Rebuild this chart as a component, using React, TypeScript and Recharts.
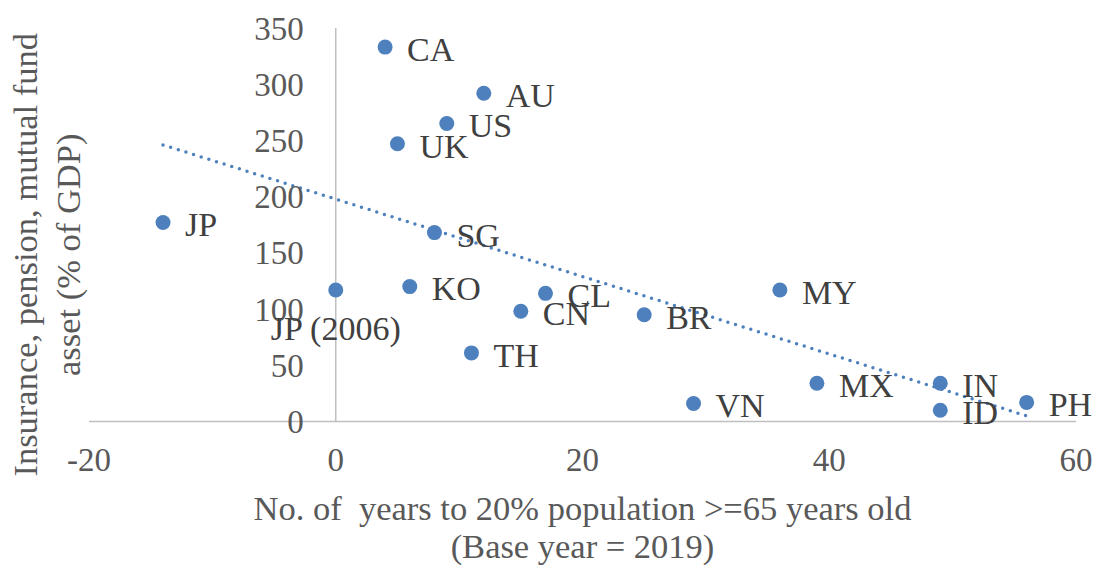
import { ScatterChart, Scatter, XAxis, YAxis, ReferenceLine, ReferenceDot } from 'recharts';

const countries = ['JP', 'CA', 'AU', 'US', 'UK', 'SG', 'JP (2006)', 'KO', 'TH', 'CN', 'CL', 'BR', 'MY', 'VN', 'MX', 'IN', 'ID', 'PH'];
const yearsTo20 = [-14, 4, 12, 9, 5, 8, 0, 6, 11, 15, 17, 25, 36, 29, 39, 49, 49, 56];
const assetPctGdp = [177, 333, 292, 265, 247, 168, 117, 120, 61, 98, 114, 95, 117, 16, 34, 34, 10, 17];

// dotted linear trendline, end points
const trendYears = [-14, 56];
const trendAsset = [246, 5];

const xTicks = [-20, 0, 20, 40, 60];
const yTicks = [0, 50, 100, 150, 200, 250, 300, 350];

const points = countries.map((name, i) => ({ name, x: yearsTo20[i], y: assetPctGdp[i] }));
const trendSegment = trendYears.map((x, i) => ({ x, y: trendAsset[i] }));

const FONT = '"Liberation Serif", "Times New Roman", serif';
const BLUE = '#4e80bd';
const AXIS_GRAY = '#bfbfbf';
const TEXT_GRAY = '#595959';
const LABEL_GRAY = '#404040';

const belowLabel = new Set(['JP (2006)']);

const PointWithLabel = (props: any) => {
  const { cx, cy, payload } = props;
  const below = belowLabel.has(payload.name);
  return (
    <g>
      <circle cx={cx} cy={cy} r={7.5} fill={BLUE} />
      <text
        x={below ? cx : cx + 22}
        y={below ? cy + 38 : cy + 2}
        dy="0.35em"
        textAnchor={below ? 'middle' : 'start'}
        fontFamily={FONT}
        fontSize={34}
        fill={LABEL_GRAY}
      >
        {payload.name}
      </text>
    </g>
  );
};

const XTitle = (props: any) => {
  const { x, y, width } = props.viewBox;
  const cx = x + width / 2;
  return (
    <text textAnchor="middle" fontFamily={FONT} fontSize={34.5} fill={TEXT_GRAY} style={{ whiteSpace: 'pre' }}>
      <tspan x={cx} y={y + 86} dy="0.35em">No. of  years to 20% population &gt;=65 years old</tspan>
      <tspan x={cx} y={y + 124} dy="0.35em">(Base year = 2019)</tspan>
    </text>
  );
};

const YTitle = (props: any) => {
  const { y, height } = props.viewBox;
  const cy = y + height / 2 + 30;
  return (
    <g fontFamily={FONT} fontSize={34.5} fill={TEXT_GRAY}>
      <text x={25} y={cy} dy="0.35em" textAnchor="middle" transform={`rotate(-90, 25, ${cy})`}>
        Insurance, pension, mutual fund
      </text>
      <text x={68} y={cy} dy="0.35em" textAnchor="middle" transform={`rotate(-90, 68, ${cy})`}>
        asset (% of GDP)
      </text>
    </g>
  );
};

const YTickLabel = (props: any) => {
  const { x, y } = props.viewBox;
  return (
    <text x={x - 32} y={y} dy="0.35em" textAnchor="end" fontFamily={FONT} fontSize={33} fill={TEXT_GRAY}>
      {props.value}
    </text>
  );
};

export default function App() {
  return (
    <div>
      <style>{'body { margin: 0; } .recharts-wrapper, .recharts-surface { overflow: visible !important; }'}</style>
      <ScatterChart width={1096} height={569} margin={{ top: 28, right: 20, bottom: 17.5, left: 0 }}>
        <XAxis
          type="number"
          dataKey="x"
          domain={[-20, 60]}
          ticks={xTicks}
          interval={0}
          height={130}
          tickLine={false}
          tickSize={0}
          tickMargin={26}
          axisLine={{ stroke: AXIS_GRAY, strokeWidth: 1.5 }}
          tick={{ fill: TEXT_GRAY, fontSize: 33, fontFamily: FONT }}
          label={{ content: (p: any) => <XTitle {...p} /> }}
        />
        <YAxis
          type="number"
          dataKey="y"
          domain={[0, 350]}
          ticks={yTicks}
          width={89}
          tick={false}
          tickLine={false}
          axisLine={false}
          label={{ content: (p: any) => <YTitle {...p} /> }}
        />
        <ReferenceLine x={0} stroke={AXIS_GRAY} strokeWidth={1.5} />
        {yTicks.map((v) => (
          <ReferenceDot
            key={v}
            x={0}
            y={v}
            r={0}
            fill="none"
            stroke="none"
            label={{ value: String(v), content: (p: any) => <YTickLabel {...p} /> }}
          />
        ))}
        <Scatter data={points} fill={BLUE} isAnimationActive={false} shape={(p: any) => <PointWithLabel {...p} />} />
        <ReferenceLine
          segment={trendSegment}
          stroke={BLUE}
          strokeWidth={3.5}
          strokeDasharray="0 8"
          strokeLinecap="round"
        />
      </ScatterChart>
    </div>
  );
}
